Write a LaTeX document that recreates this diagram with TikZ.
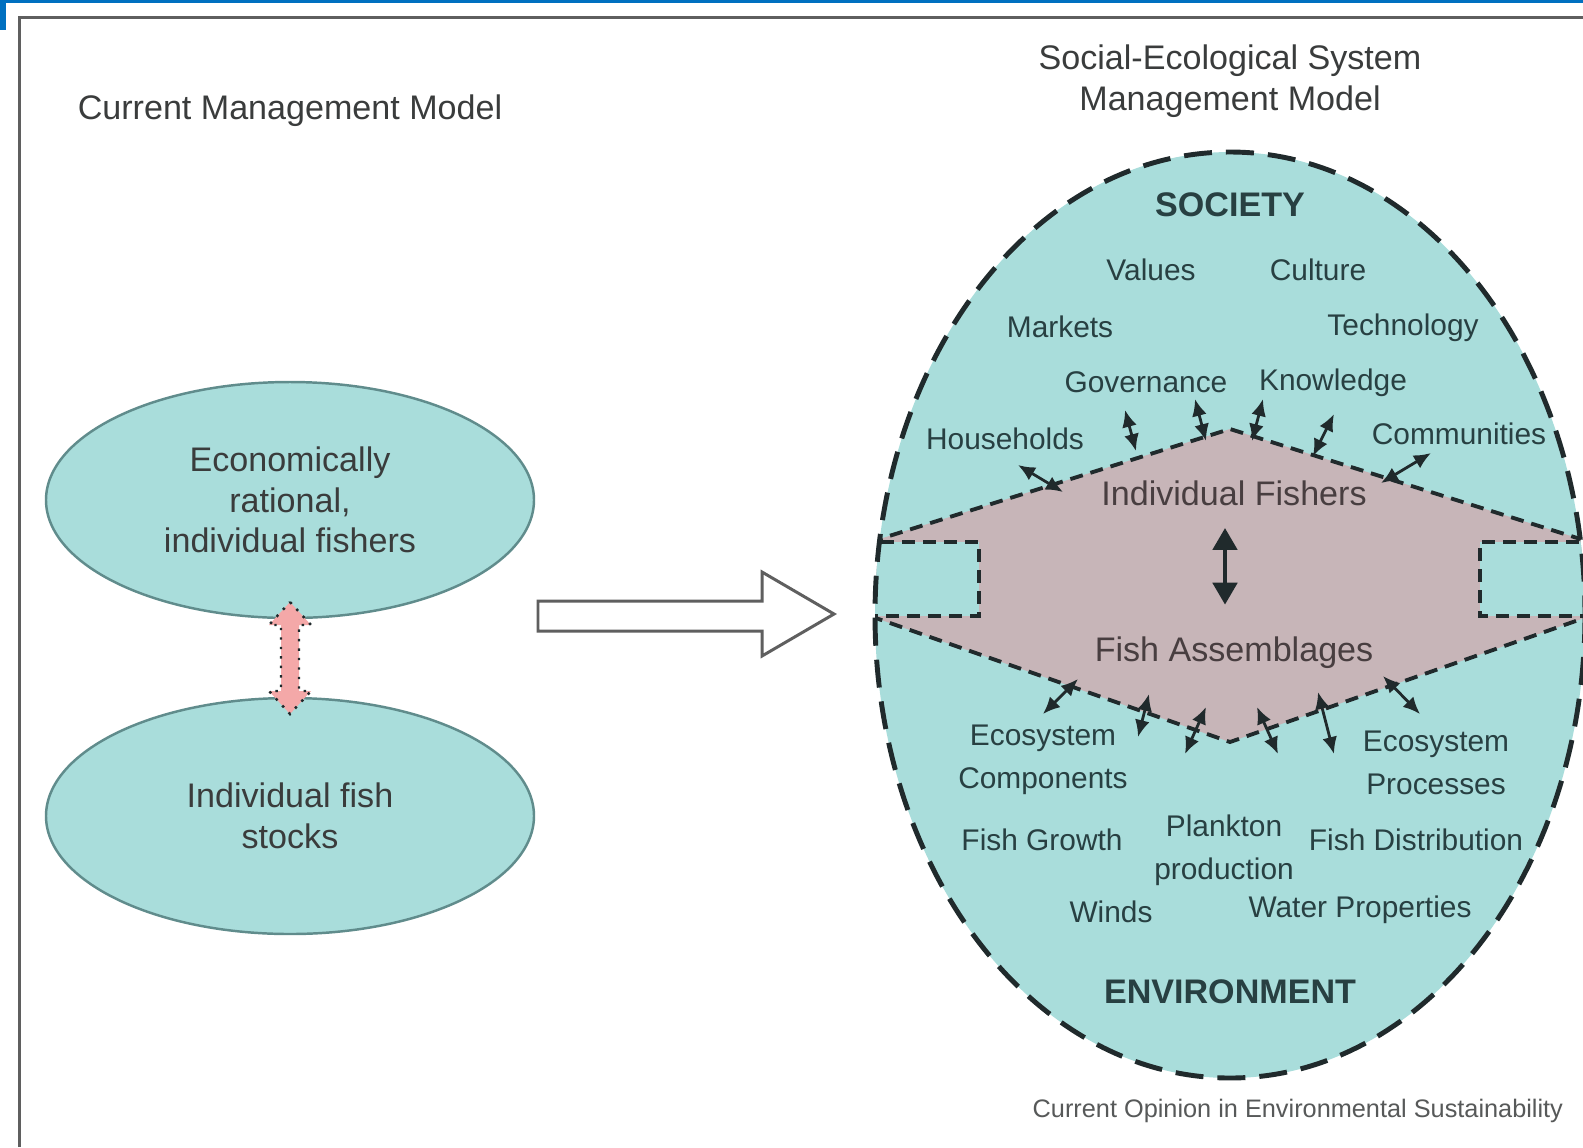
\documentclass[tikz,border=0pt]{standalone}
\usepackage{fontspec}
\setmainfont{Liberation Sans}
\usepackage{xcolor}
\definecolor{sesteal}{RGB}{169,221,219}
\definecolor{edgeteal}{RGB}{96,140,140}
\definecolor{corefill}{RGB}{199,181,184}
\definecolor{linkpink}{RGB}{244,168,168}
\definecolor{dashink}{RGB}{32,42,44}
\definecolor{ink}{RGB}{58,60,60}
\definecolor{itemink}{RGB}{40,64,66}
\definecolor{coreink}{RGB}{72,62,64}
\definecolor{framegray}{RGB}{95,95,95}
\definecolor{pageblue}{RGB}{0,112,192}
\usepackage{tikz}
\usetikzlibrary{arrows.meta,positioning,shapes.geometric,calc}
\newcommand{\bigtxt}{\fontsize{9.7}{11.5}\selectfont}
\newcommand{\itemtxt}{\fontsize{8.5}{12.2}\selectfont}
\tikzset{
  model/.style={ellipse,draw=edgeteal,fill=sesteal,line width=0.7pt,%
    minimum width=48.8mm,minimum height=23.6mm,font=\bigtxt,text=ink,align=center},
  title/.style={font=\bigtxt,text=ink,align=center},
  item/.style={font=\itemtxt,text=itemink,align=center},
  head/.style={font=\bigtxt\bfseries,text=itemink},
  core/.style={font=\bigtxt,text=coreink},
  zone/.style={draw=dashink,line width=1.1pt,dash pattern=on 1.3mm off 0.8mm},
  rim/.style={draw=dashink,line width=1.4pt,dash pattern=on 2.8mm off 1.4mm},
  tie/.style={{Latex[length=1.7mm,width=1.5mm]}-{Latex[length=1.7mm,width=1.5mm]},%
    line width=0.8pt,draw=dashink},
  core link/.style={{Triangle[length=2.2mm,width=2.4mm]}-{Triangle[length=2.2mm,width=2.4mm]},%
    line width=1.4pt,draw=dashink},
}

\begin{document}
\begin{tikzpicture}[x=0.1mm,y=-0.1mm]
\useasboundingbox (0,0) rectangle (1583,1147);
\fill[white] (0,0) rectangle (1583,1147);
\fill[pageblue] (0,0) rectangle (1583,2.5);
\fill[pageblue] (0,0) rectangle (6,30);
\draw[framegray,line width=0.3mm] (19,1147) -- (19,17) -- (1583,17);

% current model
\node[title] (cmm) at (290,111) {Current Management Model};
\node[model] (econ) at (290,500) {Economically\\rational,\\individual fishers};
\node[model] (stock) at (290,816) {Individual fish\\stocks};
\coordinate (lk) at ($(econ.south)!0.5!(stock.north)$);
\draw[dashink,fill=linkpink,line width=0.7pt,dotted]
  ($(lk)+(0,-56)$) -- ++(21,23) -- ++(-12,0) -- ++(0,66) -- ++(12,0)
  -- ($(lk)+(0,56)$) -- ++(-21,-23) -- ++(12,0) -- ++(0,-66) -- ++(-12,0) -- cycle;

\draw[framegray,fill=white,line width=0.85pt,line join=miter]
  (538,601) -- (762,601) -- (762,572) -- (834,614) -- (762,656) -- (762,631) -- (538,631) -- cycle;

% social-ecological model
\node[title] (sesm) at (1230,81) {Social-Ecological System\\Management Model};
\fill[sesteal] (1230,615) ellipse [x radius=355,y radius=463];
\begin{scope}
  \clip (1230,615) ellipse [x radius=355,y radius=463];
  \fill[corefill] (870,542) -- (1230,429) -- (1590,542) -- (1590,616) -- (1230,742) -- (870,616) -- cycle;
  \fill[sesteal] (860,542) rectangle (979,616);
  \fill[sesteal] (1480,542) rectangle (1600,616);
  \draw[zone] (870,542) -- (1230,429) -- (1590,542);
  \draw[zone] (870,616) -- (1230,742) -- (1590,616);
  \draw[zone] (860,542) -- (979,542) -- (979,616) -- (860,616);
  \draw[zone] (1600,542) -- (1480,542) -- (1480,616) -- (1600,616);
\end{scope}
\draw[rim] (1230,615) ellipse [x radius=355,y radius=463];

\node[head] (soc) at (1230,205) {SOCIETY};
\node[item] (val) at (1151,270) {Values};
\node[item] (cul) at (1318,270) {Culture};
\node[item] (mkt) at (1060,327) {Markets};
\node[item] (tec) at (1403,328) {Technology};
\node[item] (gov) at (1146,382) {Governance};
\node[item] (kno) at (1333,383) {Knowledge};
\node[item] (hh) at (1005,439) {Households};
\node[item] (com) at (1459,434) {Communities};

\node[core] (fishers) at (1234,493) {Individual Fishers};
\node[core] (assemb) at (1234,653) {Fish Assemblages};
\draw[core link] ([xshift=-0.9mm,yshift=-1mm]fishers.south) -- ([xshift=-0.9mm,yshift=2mm]assemb.north);

\node[item] (eco) at (1043,760) {Ecosystem\\Components};
\node[item] (ecp) at (1436,763) {Ecosystem\\Processes};
\node[item] (fgr) at (1042,840) {Fish Growth};
\node[item,text depth=0pt] (plk) at (1224,847) {Plankton\\production};
\node[item] (fdi) at (1416,840) {Fish Distribution};
\node[item] (win) at (1111,912) {Winds};
\node[item] (wat) at (1360,910) {Water Properties};
\node[head] (env) at (1230,992) {ENVIRONMENT};

\foreach \n/\a/\b/\c/\d in {
  s1/1063/492/1018/465, s2/1136/451/1125/410, s3/1206/441/1195/399,
  s4/1252/441/1263/399, s5/1313/456/1334/414, s6/1381/483/1431/453,
  e1/1078/679/1043/714, e2/1149/694/1138/737, e3/1206/707/1185/754,
  e4/1257/707/1278/754, e5/1318/692/1334/754, e6/1383/676/1420/714} {
  \coordinate (\n a) at (\a,\b);
  \coordinate (\n b) at (\c,\d);
  \draw[tie] (\n a) -- (\n b);
}

\node[anchor=west,inner sep=0pt,font=\fontsize{7.2}{9}\selectfont,text=ink!85] (src) at (1032,1111)
  {Current Opinion in Environmental Sustainability};
\end{tikzpicture}
\end{document}
